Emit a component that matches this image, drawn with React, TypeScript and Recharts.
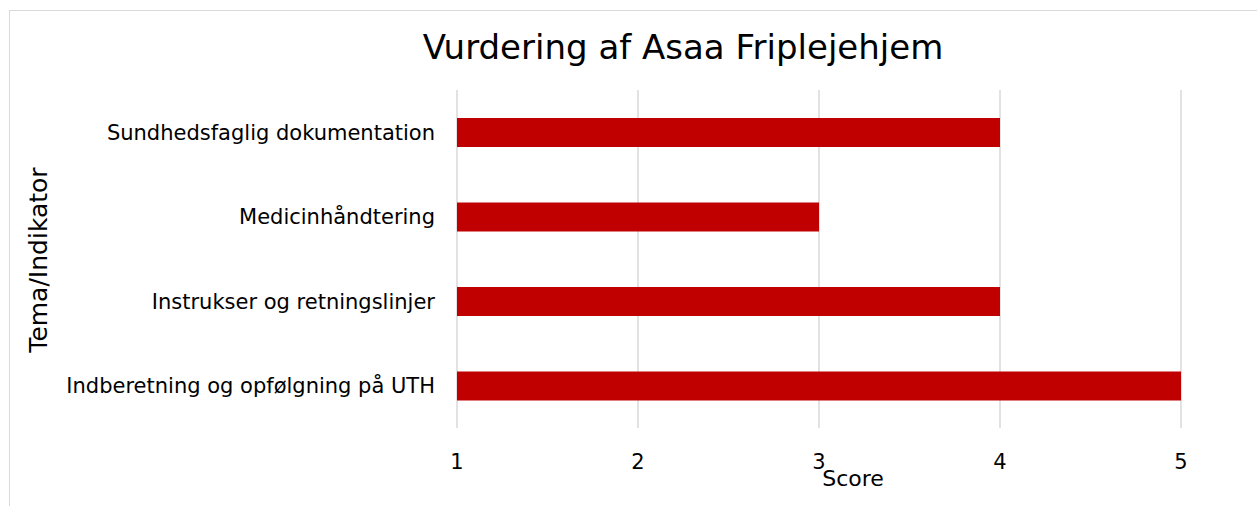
import { Bar, BarChart, CartesianGrid, Label, XAxis, YAxis } from "recharts";

const categories = [
  "Sundhedsfaglig dokumentation",
  "Medicinhåndtering",
  "Instrukser og retningslinjer",
  "Indberetning og opfølgning på UTH",
];
const scores = [4, 3, 4, 5];
const xTicks = [1, 2, 3, 4, 5];

const data = categories.map((name, i) => ({ name, score: scores[i] }));

const FONT = "'DejaVu Sans', sans-serif";

export default function App() {
  return (
    <div
      style={{
        position: "absolute",
        left: 0,
        top: 0,
        width: 1257,
        height: 506,
        background: "#fff",
        overflow: "hidden",
        fontFamily: FONT,
      }}
    >
      <div
        style={{
          position: "absolute",
          left: 9,
          top: 10,
          width: 1300,
          height: 600,
          border: "1px solid #d9d9d9",
        }}
      />
      <div
        style={{
          position: "absolute",
          left: 0,
          top: 27,
          width: 1366,
          textAlign: "center",
          fontSize: 34,
          color: "#000",
        }}
      >
        Vurdering af Asaa Friplejehjem
      </div>
      <div style={{ position: "absolute", left: 0, top: 0 }}>
        <BarChart
          width={1257}
          height={506}
          data={data}
          layout="vertical"
          margin={{ top: 90, right: 76, bottom: 48, left: 0 }}
        >
          <CartesianGrid horizontal={false} stroke="#d9d9d9" strokeWidth={1.5} />
          <XAxis
            type="number"
            domain={[1, 5]}
            ticks={xTicks}
            height={30}
            axisLine={false}
            tickLine={false}
            tickSize={0}
            tickMargin={26}
            tick={{ fill: "#000", fontSize: 21, fontFamily: FONT }}
          >
            <Label
              content={() => (
                <text
                  x={853}
                  y={478}
                  textAnchor="middle"
                  dominantBaseline="central"
                  fontSize={22}
                  fontFamily={FONT}
                  fill="#000"
                >
                  Score
                </text>
              )}
            />
          </XAxis>
          <YAxis
            type="category"
            dataKey="name"
            width={457}
            axisLine={false}
            tickLine={false}
            tickSize={0}
            tickMargin={22}
            tick={{ fill: "#000", fontSize: 21, fontFamily: FONT }}
          >
            <Label
              content={() => (
                <text
                  x={38}
                  y={260}
                  transform="rotate(-90, 38, 260)"
                  textAnchor="middle"
                  dominantBaseline="central"
                  fontSize={25}
                  fontFamily={FONT}
                  fill="#000"
                >
                  Tema/Indikator
                </text>
              )}
            />
          </YAxis>
          <Bar dataKey="score" fill="#C00000" barSize={29} isAnimationActive={false} />
        </BarChart>
      </div>
    </div>
  );
}
